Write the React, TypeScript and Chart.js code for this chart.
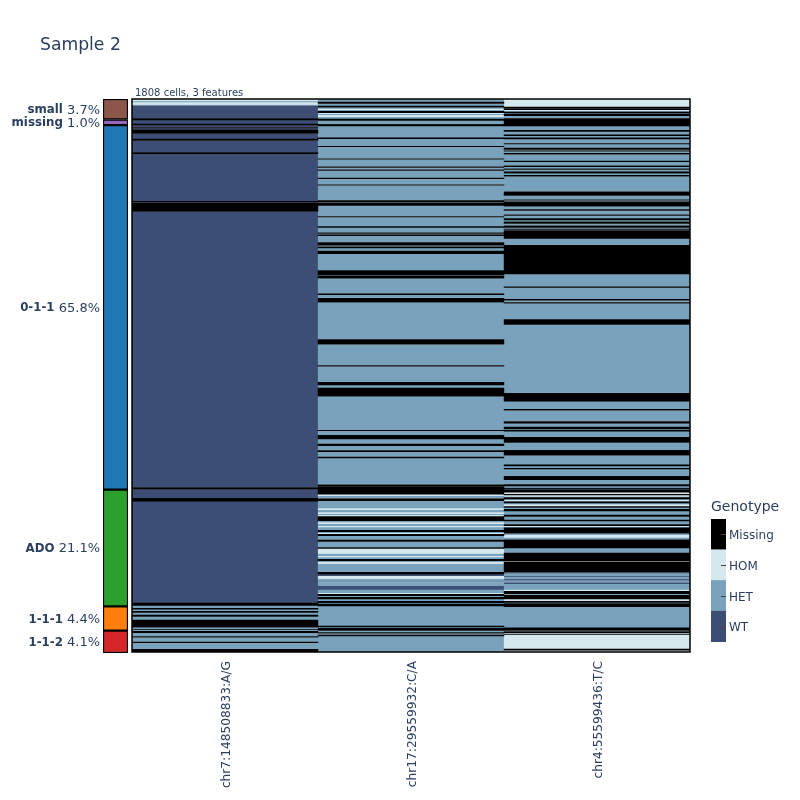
import React, { useEffect, useRef } from "react";
import { Chart, registerables } from "chart.js";

Chart.register(...registerables);

const TITLE = "Sample 2";
const SUBTITLE = "1808 cells, 3 features";
const ROWS = 1808;

const features = ["chr7:148508833:A/G", "chr17:29559932:C/A", "chr4:55599436:T/C"];
const genotypes = ["Missing", "HOM", "HET", "WT"];

const W = "WT", E = "HET", H = "HOM", M = "Missing";

// each band: genotype and the row at which it ends
const chr7Bands: [string, number][] = [
  [H, 7], [E, 12], [H, 18], [E, 21], [W, 64], [M, 69], [W, 82], [M, 86], [W, 93], [M, 96], [W, 101], [M, 113],
  [W, 131], [M, 136], [W, 175], [M, 179], [W, 334], [M, 338], [W, 341], [M, 368], [W, 1270], [M, 1276], [W, 1305], [M, 1315],
  [W, 1648], [M, 1654], [E, 1665], [M, 1668], [E, 1675], [M, 1679], [E, 1687], [M, 1692], [E, 1703], [M, 1727],
  [E, 1740], [M, 1745], [E, 1757], [M, 1760], [E, 1775], [M, 1778], [E, 1799], [M, 1808],
];

const chr17Bands: [string, number][] = [
  [E, 10], [M, 15], [E, 23], [M, 27], [E, 32], [H, 36], [E, 40], [M, 45], [H, 49], [E, 53], [H, 58], [E, 65], [M, 70],
  [E, 84], [M, 88], [E, 127], [M, 130], [E, 154], [M, 156], [E, 195], [M, 197], [E, 221], [M, 224], [E, 231], [M, 234],
  [E, 258], [M, 261], [E, 280], [M, 282], [E, 332], [M, 338], [E, 341], [M, 348], [E, 384], [M, 386], [E, 417], [M, 420],
  [E, 437], [M, 440], [E, 444], [M, 447], [E, 469], [M, 478], [E, 483], [M, 487], [E, 497], [M, 506], [E, 561], [M, 575],
  [E, 578], [M, 586], [E, 637], [M, 640], [E, 651], [M, 665], [E, 786], [M, 802], [E, 871], [M, 874], [E, 926], [M, 935],
  [E, 945], [M, 972], [E, 1083], [M, 1085], [E, 1099], [M, 1112], [E, 1128], [M, 1134], [E, 1149], [M, 1153], [E, 1170],
  [M, 1174], [E, 1261], [M, 1265], [E, 1267], [M, 1292], [H, 1298], [E, 1307], [M, 1314], [E, 1339], [H, 1343], [E, 1352],
  [H, 1356], [E, 1361], [H, 1365], [M, 1379], [E, 1385], [H, 1389], [E, 1396], [H, 1400], [E, 1410], [M, 1415], [E, 1419],
  [H, 1423], [M, 1428], [E, 1442], [M, 1447], [E, 1466], [M, 1470], [H, 1486], [E, 1495], [H, 1498], [E, 1505], [M, 1510],
  [E, 1515], [H, 1519], [E, 1547], [M, 1553], [W, 1560], [H, 1568], [E, 1577], [W, 1580], [E, 1591], [W, 1605], [E, 1616],
  [H, 1619], [M, 1624], [E, 1629], [M, 1635], [E, 1642], [M, 1647], [E, 1651], [M, 1658], [E, 1723], [M, 1726], [E, 1730],
  [M, 1738], [E, 1744], [M, 1747], [E, 1752], [M, 1756], [E, 1808],
];

const chr4Bands: [string, number][] = [
  [H, 26], [M, 30], [E, 32], [M, 35], [H, 38], [E, 42], [M, 46], [E, 49], [M, 55], [E, 64], [M, 88], [E, 102], [M, 106],
  [E, 117], [M, 120], [E, 127], [M, 131], [E, 145], [M, 147], [E, 160], [M, 165], [E, 169], [M, 171], [E, 177], [M, 181],
  [E, 203], [M, 205], [E, 218], [M, 222], [E, 228], [M, 231], [E, 238], [M, 243], [E, 249], [M, 253], [E, 303], [M, 316],
  [E, 329], [M, 331], [E, 336], [M, 351], [E, 361], [M, 365], [E, 378], [M, 381], [E, 391], [M, 396], [E, 401], [M, 407],
  [E, 414], [M, 420], [E, 425], [M, 427], [E, 430], [M, 456], [E, 478], [M, 572], [E, 614], [M, 616], [E, 655], [M, 658],
  [E, 665], [M, 668], [E, 721], [M, 737], [E, 962], [M, 988], [E, 1014], [M, 1018], [E, 1054], [M, 1060], [E, 1072],
  [M, 1079], [E, 1083], [M, 1086], [E, 1106], [M, 1123], [E, 1148], [M, 1165], [E, 1196], [M, 1200], [E, 1207], [M, 1210],
  [E, 1233], [M, 1245], [E, 1260], [M, 1265], [E, 1270], [W, 1278], [M, 1286], [H, 1292], [M, 1295], [H, 1299], [E, 1303],
  [M, 1308], [E, 1311], [H, 1315], [E, 1317], [M, 1321], [E, 1326], [H, 1332], [M, 1336], [E, 1341], [M, 1347], [E, 1360],
  [M, 1365], [E, 1376], [M, 1380], [E, 1391], [M, 1395], [H, 1398], [E, 1402], [M, 1420], [E, 1426], [H, 1433], [E, 1441],
  [M, 1468], [E, 1484], [M, 1510], [H, 1513], [M, 1547], [E, 1551], [W, 1554], [E, 1560], [W, 1563], [E, 1570], [W, 1575],
  [E, 1580], [W, 1586], [E, 1605], [H, 1609], [M, 1618], [E, 1622], [M, 1635], [H, 1640], [E, 1642], [M, 1646], [E, 1649],
  [M, 1660], [E, 1729], [M, 1738], [H, 1741], [M, 1745], [H, 1749], [M, 1751], [H, 1798], [M, 1802], [H, 1808],
];

const featureBands = [chr7Bands, chr17Bands, chr4Bands];

const clusterNames = ["small", "missing", "0-1-1", "ADO", "1-1-1", "1-1-2"];
const clusterPercents = ["3.7%", "1.0%", "65.8%", "21.1%", "4.4%", "4.1%"];
const clusterRows = [67, 18, 1190, 381, 79, 73];

const clusterColors = ["#8c564b", "#9467bd", "#1f77b4", "#2ca02c", "#ff7f0e", "#d62728"];
const genotypeColors: Record<string, string> = { WT: "#3c4e74", HET: "#79a3bc", HOM: "#d4e8ed", Missing: "#000000" };
const TEXT = "#2a3f5f";
const FAMILY = "'DejaVu Sans'";

const clusterEdges = clusterRows.reduce<number[]>((acc, n) => [...acc, (acc[acc.length - 1] ?? 0) + n], []);

const frame = {
  id: "frame",
  afterDatasetsDraw(chart: any) {
    const { ctx, chartArea: a } = chart;
    ctx.save();
    ctx.strokeStyle = "#000";
    ctx.lineWidth = 1.5;
    ctx.strokeRect(a.left, a.top, a.right - a.left, a.bottom - a.top);
    ctx.restore();
  },
};

const headings = {
  id: "headings",
  afterDraw(chart: any) {
    const { ctx, chartArea: a } = chart;
    ctx.save();
    ctx.fillStyle = TEXT;
    ctx.textAlign = "left";
    ctx.textBaseline = "alphabetic";
    ctx.font = `17.2px ${FAMILY}`;
    ctx.fillText(TITLE, 40, 50);
    ctx.font = `10px ${FAMILY}`;
    ctx.fillText(SUBTITLE, a.left + 3, 96);
    ctx.restore();
  },
};

const clusterLabels = {
  id: "clusterLabels",
  afterDraw(chart: any) {
    const { ctx, chartArea: a, scales } = chart;
    ctx.save();
    ctx.fillStyle = TEXT;
    ctx.textBaseline = "middle";
    ctx.textAlign = "left";
    clusterNames.forEach((name, i) => {
      const mid = clusterEdges[i] - clusterRows[i] / 2;
      const y = scales.y.getPixelForValue(mid) + 1;
      const pct = " " + clusterPercents[i];
      ctx.font = `13px ${FAMILY}`;
      const pw = ctx.measureText(pct).width;
      ctx.font = `bold 11.8px ${FAMILY}`;
      const nw = ctx.measureText(name).width;
      const right = a.left - 3;
      ctx.fillText(name, right - pw - nw, y);
      ctx.font = `13px ${FAMILY}`;
      ctx.fillText(pct, right - pw, y);
    });
    ctx.restore();
  },
};

const barTicks = {
  id: "barTicks",
  afterDatasetsDraw(chart: any) {
    const { ctx, chartArea: a, scales } = chart;
    ctx.save();
    ctx.strokeStyle = "#444";
    ctx.lineWidth = 1;
    scales.y.ticks.forEach((_: any, i: number) => {
      const y = Math.round(scales.y.getPixelForTick(i)) + 0.5;
      ctx.beginPath();
      ctx.moveTo(a.right - 5, y);
      ctx.lineTo(a.right, y);
      ctx.stroke();
    });
    ctx.restore();
  },
};

const barTitle = {
  id: "barTitle",
  afterDraw(chart: any) {
    const { ctx, chartArea: a } = chart;
    ctx.save();
    ctx.fillStyle = TEXT;
    ctx.font = `14px ${FAMILY}`;
    ctx.fillText("Genotype", a.left, 511);
    ctx.restore();
  },
};

const canvasStyle: React.CSSProperties = { position: "absolute", left: 0, top: 0, width: 800, height: 800 };

export default function App() {
  const mainRef = useRef<HTMLCanvasElement>(null);
  const clusterRef = useRef<HTMLCanvasElement>(null);
  const barRef = useRef<HTMLCanvasElement>(null);

  useEffect(() => {
    const order = [M, H, E, W];
    const main = new Chart(mainRef.current!, {
      type: "bar",
      data: {
        labels: features,
        datasets: order.map((g) => ({
          label: g,
          backgroundColor: genotypeColors[g],
          grouped: false,
          categoryPercentage: 1,
          barPercentage: 1,
          inflateAmount: g === M ? 0.22 : 0.1,
          data: featureBands.flatMap((bands, f) => {
            const pts: { x: string; y: [number, number] }[] = [];
            let start = 0;
            bands.forEach(([state, end]) => {
              if (state === g) pts.push({ x: features[f], y: [start, end] });
              start = end;
            });
            return pts;
          }),
        })),
      } as any,
      options: {
        responsive: false,
        devicePixelRatio: 1,
        animation: false,
        layout: { padding: { left: 132, right: 110, top: 99, bottom: 0 } },
        plugins: { legend: { display: false }, tooltip: { enabled: false } },
        scales: {
          x: {
            grid: { display: false, drawTicks: false },
            border: { display: false },
            afterFit(scale: any) { scale.height = 148; },
            ticks: {
              autoSkip: false,
              maxRotation: 90,
              minRotation: 90,
              padding: 9,
              labelOffset: 1.5,
              color: TEXT,
              font: { family: FAMILY, size: 12.2 },
            },
          },
          y: {
            type: "linear",
            reverse: true,
            min: 0,
            max: ROWS,
            border: { display: false },
            grid: { z: 1, color: "rgba(0,0,0,0.75)", lineWidth: 1, drawTicks: false },
            ticks: { display: false },
            afterBuildTicks(scale: any) {
              scale.ticks = clusterEdges.slice(0, -1).map((value) => ({ value }));
            },
          },
        },
      } as any,
      plugins: [frame, headings],
    });

    let start = 0;
    const cluster = new Chart(clusterRef.current!, {
      type: "bar",
      data: {
        labels: ["clusters"],
        datasets: clusterNames.map((name, i) => {
          const d = {
            label: name,
            backgroundColor: clusterColors[i],
            borderColor: "#000",
            borderWidth: 1.5,
            borderSkipped: false,
            grouped: false,
            categoryPercentage: 1,
            barPercentage: 1,
            data: [[start, clusterEdges[i]]],
          };
          start = clusterEdges[i];
          return d;
        }),
      } as any,
      options: {
        responsive: false,
        devicePixelRatio: 1,
        animation: false,
        layout: { padding: { left: 103, right: 672, top: 99, bottom: 147 } },
        plugins: { legend: { display: false }, tooltip: { enabled: false } },
        scales: {
          x: { display: false },
          y: { display: false, type: "linear", reverse: true, min: 0, max: ROWS },
        },
      } as any,
      plugins: [clusterLabels],
    });

    const bar = new Chart(barRef.current!, {
      type: "bar",
      data: {
        labels: genotypes,
        datasets: [{
          label: "Genotype",
          backgroundColor: genotypes.map((g) => genotypeColors[g]),
          categoryPercentage: 1,
          barPercentage: 1,
          data: genotypes.map(() => 1),
        }],
      },
      options: {
        indexAxis: "y",
        responsive: false,
        devicePixelRatio: 1,
        animation: false,
        layout: { padding: { left: 711, right: 0, top: 519, bottom: 158 } },
        plugins: { legend: { display: false }, tooltip: { enabled: false } },
        scales: {
          x: { display: false, min: 0, max: 1 },
          y: {
            position: "right",
            border: { display: false },
            grid: { display: false, drawTicks: false },
            afterFit(scale: any) { scale.width = 74; },
            ticks: { padding: 3, labelOffset: 1.5, color: TEXT, font: { family: FAMILY, size: 12 } },
          },
        },
      } as any,
      plugins: [barTicks, barTitle],
    });

    return () => {
      main.destroy();
      cluster.destroy();
      bar.destroy();
    };
  }, []);

  return (
    <div style={{ position: "absolute", left: 0, top: 0, width: 800, height: 800 }}>
      <canvas ref={mainRef} width={800} height={800} style={canvasStyle} />
      <canvas ref={clusterRef} width={800} height={800} style={canvasStyle} />
      <canvas ref={barRef} width={800} height={800} style={canvasStyle} />
    </div>
  );
}
